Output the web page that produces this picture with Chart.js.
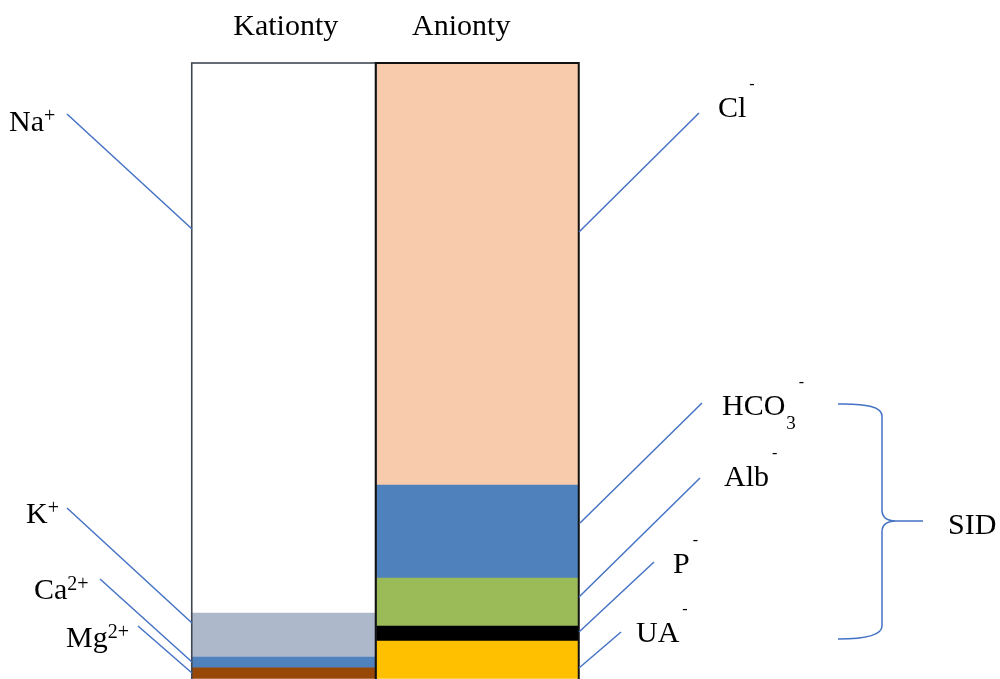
<!DOCTYPE html>
<html>
<head>
<meta charset="utf-8">
<script src="https://cdn.jsdelivr.net/npm/chart.js@4"></script>
<style>
  body { margin: 0; background: #fff; }
  #wrap { width: 1000px; height: 679px; position: relative; }
</style>
</head>
<body>
<div id="wrap"><canvas id="ionChart"></canvas></div>
<script>
// Data (mEq/l)
const categories = ['Kationty', 'Anionty'];

const cationNames = ['Na+', 'K+', 'Ca2+', 'Mg2+'];
const cationValues = [138.5, 11.1, 2.7, 2.7];
const cationColors = ['#FFFFFF', '#ADB9CA', '#4F81BD', '#974706'];

const anionNames = ['Cl-', 'HCO3-', 'Alb-', 'P-', 'UA-'];
const anionValues = [106.3, 23.4, 12.1, 3.8, 9.4];
const anionColors = ['#F8CBAD', '#4F81BD', '#9BBB59', '#000000', '#FFC000'];

const yMax = 155;

const SERIF = "'Liberation Serif', 'Times New Roman', serif";
const LINE_COLOR = '#4472C4';

// Build datasets bottom-up (first dataset sits at the bottom of the stack)
const datasets = [];
for (let i = cationNames.length - 1; i >= 0; i--) {
    datasets.push({
        label: cationNames[i],
        data: [cationValues[i], null],
        backgroundColor: cationColors[i],
        barThickness: 184,
        borderWidth: 0,
        clip: false
    });
}
for (let i = anionNames.length - 1; i >= 0; i--) {
    datasets.push({
        label: anionNames[i],
        data: [null, anionValues[i]],
        backgroundColor: anionColors[i],
        barThickness: 203,
        borderWidth: 0,
        clip: false
    });
}

// Annotation layout (leader lines and labels)
const leaders = [
    [67, 114, 192, 229],   // Na
    [67, 508, 192, 623],   // K
    [100, 579, 192, 662],  // Ca
    [138, 626, 192, 673],  // Mg
    [699, 113, 579, 232],  // Cl
    [702, 403, 580, 523],  // HCO3
    [700, 478, 579, 597],  // Alb
    [654, 562, 579, 632],  // P
    [621, 632, 579, 668]   // UA
];

// each label: x, baseline y, parts [text, kind]
const ionLabels = [
    { x: 9, y: 131, parts: [['Na', ''], ['+', 'sup']] },
    { x: 26, y: 523, parts: [['K', ''], ['+', 'sup']] },
    { x: 34, y: 599, parts: [['Ca', ''], ['2+', 'sup']] },
    { x: 66, y: 647, parts: [['Mg', ''], ['2+', 'sup']] },
    { x: 718, y: 117, parts: [['Cl', ''], ['-', 'neg']] },
    { x: 722, y: 415, parts: [['HCO', ''], ['3', 'sub'], ['-', 'neg']] },
    { x: 724, y: 486, parts: [['Alb', ''], ['-', 'neg']] },
    { x: 673, y: 573, parts: [['P', ''], ['-', 'neg']] },
    { x: 636, y: 642, parts: [['UA', ''], ['-', 'neg']] },
    { x: 948, y: 534, parts: [['SID', '']] }
];

const categoryOffsets = [2, -16];

function drawRich(ctx, label) {
    let x = label.x;
    label.parts.forEach(([text, kind]) => {
        let size = 30, dy = 0, gap = 0;
        if (kind === 'sup') { size = 20; dy = -9; }
        if (kind === 'sub') { size = 19; dy = 14; gap = 1; }
        if (kind === 'neg') { size = 16; dy = -28; gap = 3; }
        ctx.font = size + 'px ' + SERIF;
        ctx.fillText(text, x + gap, label.y + dy);
        x += gap + ctx.measureText(text).width;
    });
}

const annotationPlugin = {
    id: 'ionAnnotations',
    afterDatasetsDraw(chart) {
        const ctx = chart.ctx;
        const xScale = chart.scales.x;

        // outline around each bar
        categories.forEach((cat, ci) => {
            let left = Infinity, right = -Infinity, top = Infinity, bottom = -Infinity;
            chart.data.datasets.forEach((ds, di) => {
                if (ds.data[ci] == null) return;
                const el = chart.getDatasetMeta(di).data[ci];
                left = Math.min(left, el.x - el.width / 2);
                right = Math.max(right, el.x + el.width / 2);
                top = Math.min(top, el.y);
                bottom = Math.max(bottom, el.base);
            });
            ctx.save();
            ctx.strokeStyle = ci === 0 ? '#3F4752' : '#111111';
            ctx.lineWidth = ci === 0 ? 1.6 : 2;
            ctx.strokeRect(left, top, right - left, bottom - top + 2);
            ctx.restore();

            // category label above the bar
            ctx.save();
            ctx.fillStyle = '#000';
            ctx.font = '30px ' + SERIF;
            ctx.textAlign = 'center';
            ctx.textBaseline = 'alphabetic';
            ctx.fillText(cat, xScale.getPixelForValue(ci) + categoryOffsets[ci], 35);
            ctx.restore();
        });

        // leader lines
        ctx.save();
        ctx.strokeStyle = LINE_COLOR;
        ctx.lineWidth = 1.5;
        leaders.forEach(([x1, y1, x2, y2]) => {
            ctx.beginPath();
            ctx.moveTo(x1, y1);
            ctx.lineTo(x2, y2);
            ctx.stroke();
        });

        // SID brace
        ctx.beginPath();
        ctx.moveTo(838, 404);
        ctx.quadraticCurveTo(882, 403, 882, 416);
        ctx.lineTo(882, 510);
        ctx.quadraticCurveTo(882, 521, 896, 521);
        ctx.lineTo(923, 521);
        ctx.moveTo(896, 521);
        ctx.quadraticCurveTo(882, 521, 882, 532);
        ctx.lineTo(882, 626);
        ctx.quadraticCurveTo(882, 639, 838, 639);
        ctx.stroke();
        ctx.restore();

        // ion labels
        ctx.save();
        ctx.fillStyle = '#000';
        ctx.textAlign = 'left';
        ctx.textBaseline = 'alphabetic';
        ionLabels.forEach(l => drawRich(ctx, l));
        ctx.restore();
    }
};

const ctx = document.getElementById('ionChart').getContext('2d');

new Chart(ctx, {
    type: 'bar',
    data: {
        labels: categories,
        datasets: datasets
    },
    options: {
        responsive: true,
        maintainAspectRatio: false,
        animation: false,
        layout: {
            padding: { left: 187, right: 426, top: 63, bottom: 0.5 }
        },
        scales: {
            x: {
                display: false,
                stacked: true
            },
            y: {
                display: false,
                stacked: true,
                min: 0,
                max: yMax
            }
        },
        plugins: {
            legend: { display: false },
            tooltip: { enabled: false }
        }
    },
    plugins: [annotationPlugin]
});
</script>
</body>
</html>
